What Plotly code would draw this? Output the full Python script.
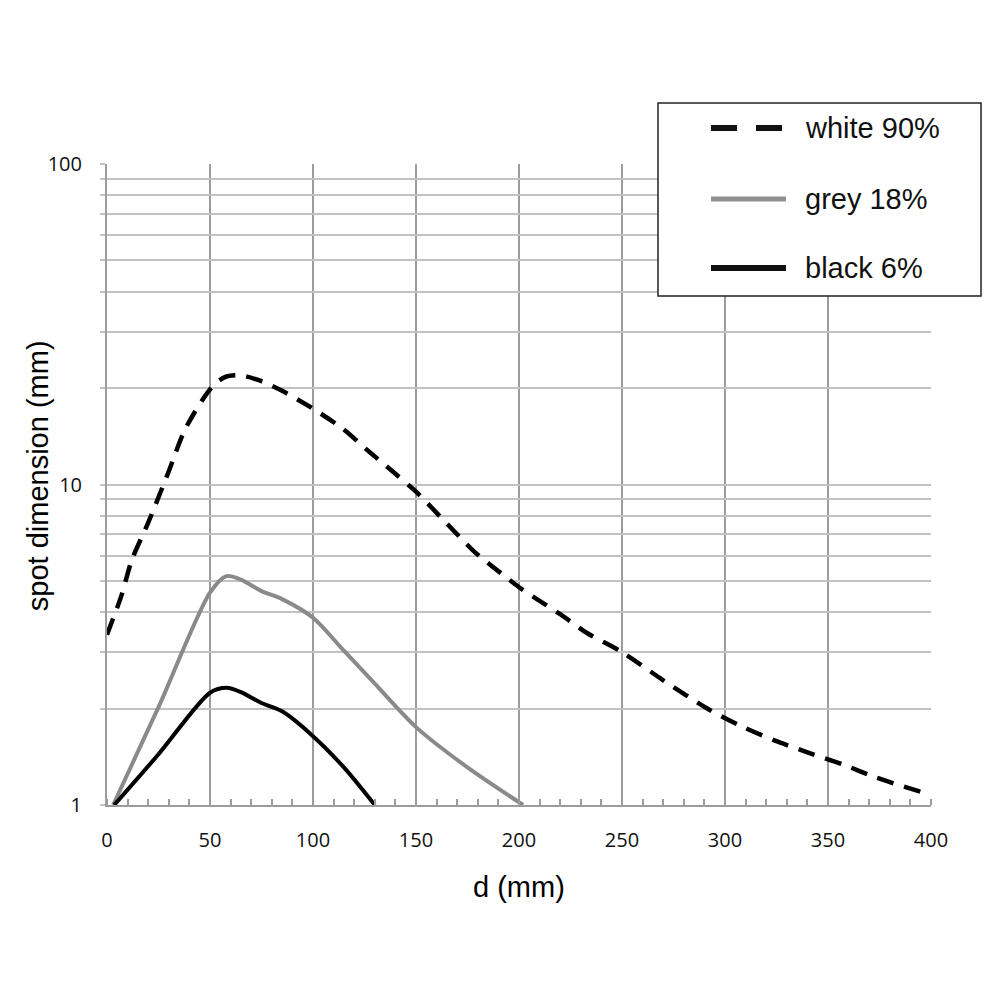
import plotly.graph_objects as go

# ---- data ----
white_x = [0, 7, 12, 20, 30, 38, 50, 57, 65, 75, 85, 99, 114, 127, 140, 150, 165, 178, 191, 200, 207, 220, 233, 250, 270, 292, 308, 324, 340, 357, 373, 395]
white_y = [3.4, 4.5, 5.8, 7.6, 11.0, 14.9, 19.8, 21.6, 21.9, 21.0, 19.6, 17.4, 15.0, 12.7, 10.8, 9.5, 7.55, 6.2, 5.3, 4.78, 4.46, 3.94, 3.44, 3.0, 2.45, 1.99, 1.76, 1.59, 1.46, 1.34, 1.22, 1.1]

grey_x = [3, 25, 50, 58, 65, 75, 85, 100, 115, 130, 150, 175, 202]
grey_y = [1.0, 2.02, 4.6, 5.18, 5.05, 4.65, 4.39, 3.84, 3.03, 2.39, 1.75, 1.31, 1.0]

black_x = [3.5, 25, 50, 58, 65, 75, 85, 100, 115, 130]
black_y = [1.0, 1.44, 2.24, 2.32, 2.25, 2.08, 1.96, 1.64, 1.31, 1.0]

series_names = ["white 90%", "grey 18%", "black 6%"]

x_ticks = [0, 50, 100, 150, 200, 250, 300, 350, 400]
y_tickvals = [1, 2, 3, 4, 5, 6, 7, 8, 9, 10, 20, 30, 40, 50, 60, 70, 80, 90, 100]
y_ticktext = ["1" if v == 1 else "10" if v == 10 else "100" if v == 100 else "" for v in y_tickvals]

VGRID = "#9c9c9c"
HGRID = "#c2c2c2"
TICKFONT = dict(size=20, family="Open Sans, Liberation Sans, sans-serif", color="#111111")
TITLEFONT = dict(size=29, family="Liberation Sans, Arial, sans-serif", color="#000000")

fig = go.Figure()
fig.add_trace(go.Scatter(x=white_x, y=white_y, mode="lines", name=series_names[0],
                         line=dict(color="#000000", width=4.5, dash="17px,11px", shape="spline", smoothing=0.8),
                         showlegend=False))
fig.add_trace(go.Scatter(x=grey_x, y=grey_y, mode="lines", name=series_names[1],
                         line=dict(color="#8a8a8a", width=4, shape="spline", smoothing=0.8),
                         showlegend=False))
fig.add_trace(go.Scatter(x=black_x, y=black_y, mode="lines", name=series_names[2],
                         line=dict(color="#000000", width=4, shape="spline", smoothing=0.8),
                         showlegend=False))

fig.update_layout(
    width=1000, height=1000,
    margin=dict(l=99, r=77, t=156, b=203),
    paper_bgcolor="white", plot_bgcolor="white",
    font=dict(family="Open Sans, Liberation Sans, sans-serif", color="#000000"),
    showlegend=False,
)

fig.update_xaxes(
    range=[0, 400], tickvals=x_ticks, ticktext=[str(v) for v in x_ticks],
    showgrid=True, gridcolor=VGRID, gridwidth=2,
    showline=True, linecolor=VGRID, linewidth=2,
    ticks="", ticklabelstandoff=16,
    tickfont=TICKFONT,
    zeroline=False,
    minor=dict(dtick=10, tick0=0, ticks="inside", ticklen=6, tickcolor=VGRID, tickwidth=1.5, showgrid=False),
)
fig.update_yaxes(
    type="log", range=[0, 2],
    tickvals=y_tickvals, ticktext=y_ticktext,
    showgrid=True, gridcolor=HGRID, gridwidth=2,
    showline=True, linecolor=VGRID, linewidth=2,
    ticks="outside", ticklen=5, tickcolor=HGRID, tickwidth=2,
    ticklabelstandoff=14,
    tickfont=TICKFONT,
    zeroline=False,
)

# axis titles
fig.add_annotation(text="spot dimension (mm)", xref="paper", yref="paper",
                   x=-0.0837, y=0.513, textangle=-90, showarrow=False,
                   font=TITLEFONT, xanchor="center", yanchor="middle")
fig.add_annotation(text="d (mm)", xref="paper", yref="paper",
                   x=0.5, y=-0.128, showarrow=False,
                   font=TITLEFONT, xanchor="center", yanchor="middle")

# legend box (drawn manually to match the reference sample lengths)
fig.add_shape(type="rect", xref="paper", yref="paper",
              x0=0.6687, x1=1.0607, y0=0.794, y1=1.0952,
              line=dict(color="#222222", width=1.5), fillcolor="white", layer="above")
leg_y = [1.0562, 0.9454, 0.8377]
leg_styles = [dict(color="#111111", width=6, dash="26px,19px"),
              dict(color="#909090", width=5),
              dict(color="#111111", width=6)]
for yy, st, name in zip(leg_y, leg_styles, series_names):
    fig.add_shape(type="line", xref="paper", yref="paper",
                  x0=0.733, x1=0.824, y0=yy, y1=yy, line=st, layer="above")
    fig.add_annotation(text=name, xref="paper", yref="paper", x=0.845, y=yy,
                       showarrow=False, xanchor="left", yanchor="middle",
                       font=dict(size=29, family="Liberation Sans, Arial, sans-serif", color="#111111"))

fig.write_html("out.html")
